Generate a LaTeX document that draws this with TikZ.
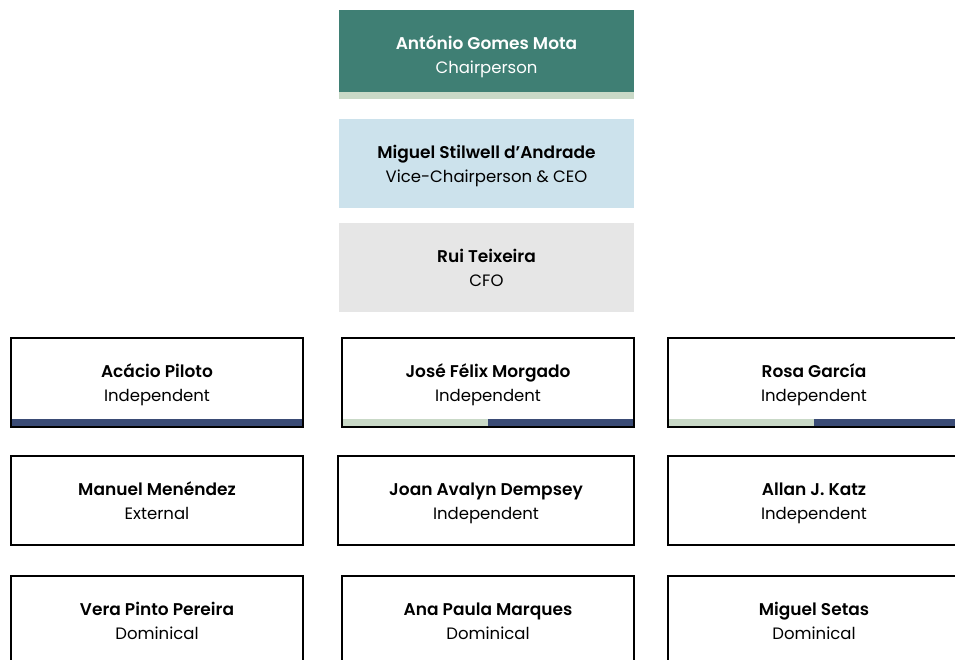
\documentclass[tikz,border=0pt]{standalone}
\usepackage{fontspec}
\setmainfont{Poppins}[BoldFont={* SemiBold}]
\definecolor{tealc}{HTML}{3F7F74}
\definecolor{sage}{HTML}{C9D9C7}
\definecolor{navy}{HTML}{3A4B75}
\definecolor{iceblue}{HTML}{CCE2EC}
\definecolor{lightgrey}{HTML}{E6E6E6}
\tikzset{
  card/.style={rectangle, inner sep=0pt, outer sep=0pt, minimum height=89pt},
  outlined/.style={card, draw=black, line width=2pt, minimum width=292pt},
  stripcard/.style={card, minimum width=292pt},
  border/.style={draw=black, line width=2pt},
  filled/.style={card, minimum width=295pt},
  nametext/.style={anchor=base, inner sep=0pt, font=\bfseries\fontsize{17}{20}\selectfont},
  subtext/.style={anchor=base, inner sep=0pt, font=\fontsize{16.5}{20}\selectfont},
}
\newcommand{\cardtext}[4][black]{%
  \node[nametext, text=#1] (#2-name) at ([yshift=5pt]#2.center) {#3};
  \node[subtext, text=#1] (#2-sub) at ([yshift=-18.5pt]#2.center) {#4};
}
\begin{document}
\begin{tikzpicture}[x=1pt,y=-1pt]
\useasboundingbox (0,0) rectangle (955,659);
\clip (0,0) rectangle (955,659);
% top executive boxes
\node[filled, fill=tealc] (chair) at (486.5,54.5) {};
\fill[sage] ([yshift=7pt]chair.south west) rectangle (chair.south east);
\cardtext[white]{chair}{António Gomes Mota}{Chairperson}
\node[filled, fill=iceblue] (vice) at (486.5,163.5) {};
\cardtext{vice}{Miguel Stilwell d’Andrade}{Vice-Chairperson \& CEO}
\node[filled, fill=lightgrey] (cfo) at (486.5,267.5) {};
\cardtext{cfo}{Rui Teixeira}{CFO}
% row 1
\node[stripcard] (r1a) at (157,382.5) {};
\node[stripcard] (r1b) at (488,382.5) {};
\node[stripcard] (r1c) at (814,382.5) {};
\fill[navy] ([yshift=8pt]r1a.south west) rectangle (r1a.south east);
\fill[sage] ([yshift=8pt]r1b.south west) rectangle (r1b.south);
\fill[navy] ([yshift=8pt]r1b.south) rectangle (r1b.south east);
\fill[sage] ([yshift=8pt]r1c.south west) rectangle (r1c.south);
\fill[navy] ([yshift=8pt]r1c.south) rectangle (r1c.south east);
\draw[border] (r1a.south west) rectangle (r1a.north east);
\draw[border] (r1b.south west) rectangle (r1b.north east);
\draw[border] (r1c.south west) rectangle (r1c.north east);
\cardtext{r1a}{Acácio Piloto}{Independent}
\cardtext{r1b}{José Félix Morgado}{Independent}
\cardtext{r1c}{Rosa García}{Independent}
% row 2
\node[outlined] (r2a) at (157,500.5) {};
\node[outlined, minimum width=296pt] (r2b) at (486,500.5) {};
\node[outlined] (r2c) at (814,500.5) {};
\cardtext{r2a}{Manuel Menéndez}{External}
\cardtext{r2b}{Joan Avalyn Dempsey}{Independent}
\cardtext{r2c}{Allan J. Katz}{Independent}
% row 3
\node[outlined] (r3a) at (157,620.5) {};
\node[outlined] (r3b) at (488,620.5) {};
\node[outlined] (r3c) at (814,620.5) {};
\cardtext{r3a}{Vera Pinto Pereira}{Dominical}
\cardtext{r3b}{Ana Paula Marques}{Dominical}
\cardtext{r3c}{Miguel Setas}{Dominical}
\end{tikzpicture}
\end{document}
